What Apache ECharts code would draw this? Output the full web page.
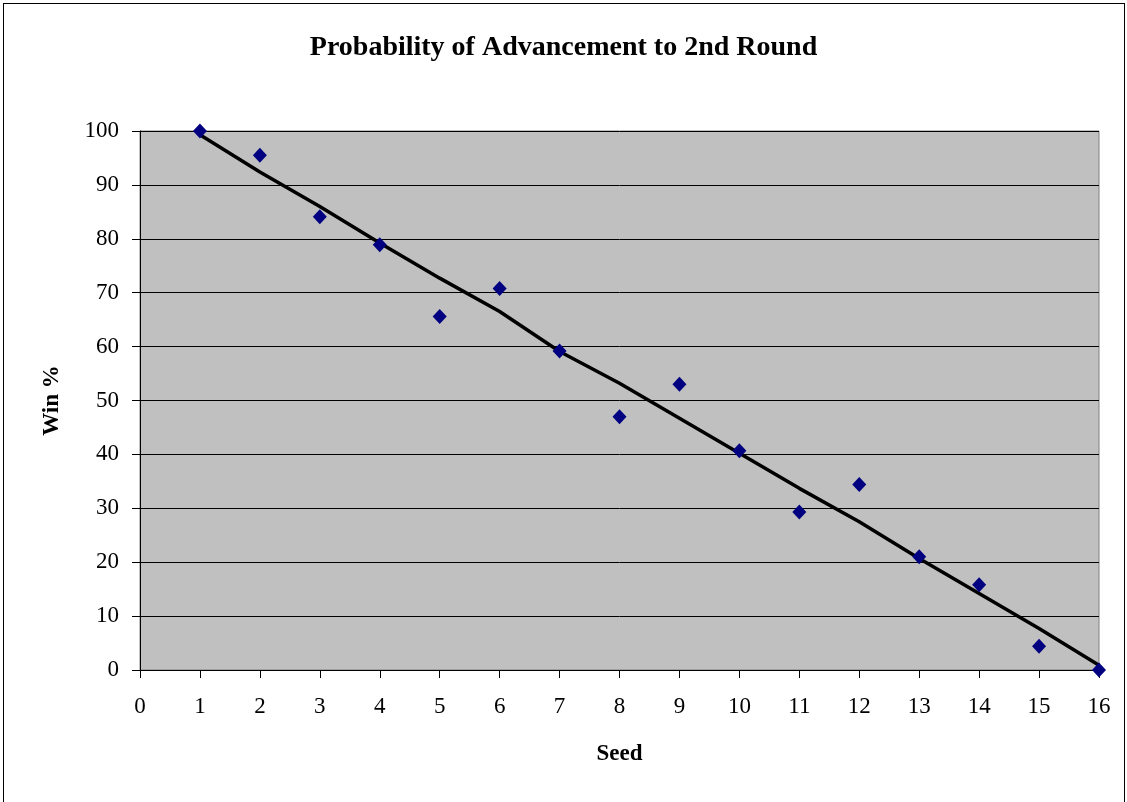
<!DOCTYPE html>
<html>
<head>
<meta charset="utf-8">
<script src="https://cdn.jsdelivr.net/npm/echarts@6/dist/echarts.min.js"></script>
<style>
  html, body { margin: 0; padding: 0; background: #fff; }
  #frame { position: absolute; left: 3px; top: 3px; width: 1122px; height: 810px; border: 1px solid #000; box-sizing: border-box; }
  #chart { position: absolute; left: 0; top: 0; width: 1127px; height: 802px; }
</style>
</head>
<body>
<div id="frame"></div>
<div id="chart"></div>
<script>
const seeds = [1, 2, 3, 4, 5, 6, 7, 8, 9, 10, 11, 12, 13, 14, 15, 16];
const winPct = [100, 95.5, 84.1, 78.9, 65.6, 70.8, 59.2, 47.0, 53.0, 40.7, 29.3, 34.4, 21.0, 15.8, 4.4, 0];
const trendPct = [99.3, 92.4, 86.0, 79.2, 72.7, 66.5, 59.1, 53.2, 46.7, 40.2, 33.7, 27.5, 20.7, 14.2, 7.7, 0.9];
const xTicks = [0, 16, 1];
const yTicks = [0, 100, 10];

const chart = echarts.init(document.getElementById('chart'), null, { renderer: 'canvas' });
const serif = '"Liberation Serif", "Times New Roman", serif';
chart.setOption({
  backgroundColor: 'transparent',
  animation: false,
  title: {
    text: 'Probability of Advancement to 2nd Round',
    left: 'center',
    top: 29,
    textStyle: { fontFamily: serif, fontWeight: 'bold', fontSize: 28, color: '#000' }
  },
  grid: {
    left: 140, right: 28, top: 131, bottom: 132,
    show: true, backgroundColor: '#C0C0C0', borderColor: '#808080', borderWidth: 1
  },
  xAxis: {
    type: 'value', min: xTicks[0], max: xTicks[1], interval: xTicks[2],
    name: 'Seed', nameLocation: 'middle', nameGap: 73,
    nameTextStyle: { fontFamily: serif, fontWeight: 'bold', fontSize: 23, color: '#000' },
    axisLine: { show: true, onZero: false, lineStyle: { color: '#000', width: 1 } },
    axisTick: { show: true, inside: false, length: 8, lineStyle: { color: '#000' } },
    axisLabel: { fontFamily: serif, fontSize: 23, color: '#000', margin: 25 },
    splitLine: { show: false }
  },
  yAxis: {
    type: 'value', min: yTicks[0], max: yTicks[1], interval: yTicks[2],
    name: 'Win %', nameLocation: 'middle', nameGap: 76, nameRotate: 90,
    nameTextStyle: { fontFamily: serif, fontWeight: 'bold', fontSize: 23, color: '#000' },
    axisLine: { show: true, lineStyle: { color: '#000', width: 1 } },
    axisTick: { show: true, inside: false, length: 8, lineStyle: { color: '#000' } },
    axisLabel: { fontFamily: serif, fontSize: 23, color: '#000', margin: 21 },
    splitLine: { show: true, lineStyle: { color: '#000', width: 1 } }
  },
  series: [
    {
      type: 'line',
      data: seeds.map((s, i) => [s, trendPct[i]]),
      symbol: 'none',
      lineStyle: { color: '#000', width: 3.5 },
      z: 2
    },
    {
      type: 'scatter',
      data: seeds.map((s, i) => [s, winPct[i]]),
      symbol: 'diamond',
      symbolSize: [14, 15],
      itemStyle: { color: '#000080', opacity: 1 },
      z: 3
    }
  ]
});
</script>
</body>
</html>
